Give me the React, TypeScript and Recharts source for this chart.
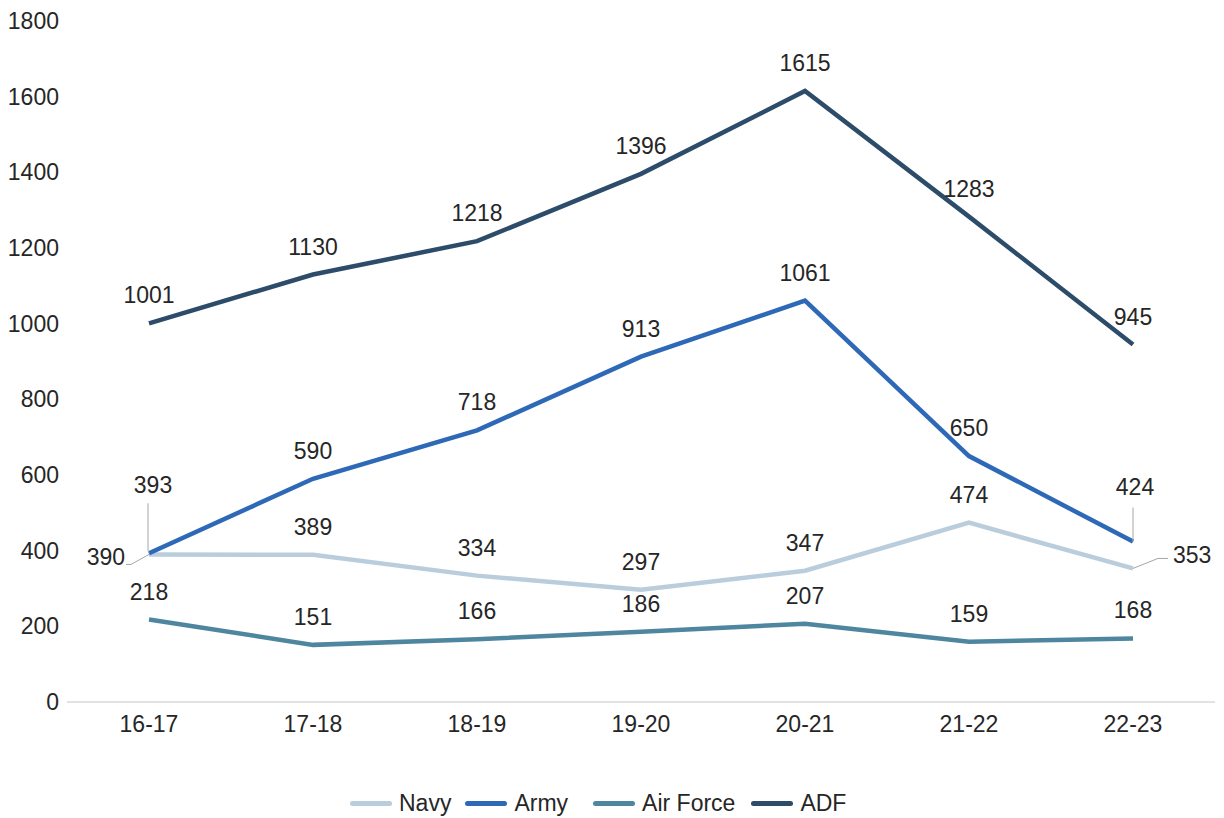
import { LineChart, Line, XAxis, YAxis, Legend, LabelList } from 'recharts';

const years = ['16-17', '17-18', '18-19', '19-20', '20-21', '21-22', '22-23'];
const navy = [390, 389, 334, 297, 347, 474, 353];
const army = [393, 590, 718, 913, 1061, 650, 424];
const airForce = [218, 151, 166, 186, 207, 159, 168];
const adf = [1001, 1130, 1218, 1396, 1615, 1283, 945];
const yTicks = [0, 200, 400, 600, 800, 1000, 1200, 1400, 1600, 1800];

const series = [
  { key: 'Navy', color: '#b9cddd', gap: 14 },
  { key: 'Army', color: '#2e69b8', gap: 25 },
  { key: 'Air Force', color: '#4e86a0', gap: 16 },
  { key: 'ADF', color: '#2c4c6a', gap: 0 },
];

const data = years.map((year, i) => ({
  year,
  Navy: navy[i],
  Army: army[i],
  'Air Force': airForce[i],
  ADF: adf[i],
}));

const FONT = '"Liberation Sans", Arial, sans-serif';
const FS = 23;
const TEXT = '#262626';
const LEADER = '#a6a6a6';

// label above point; a few labels are moved off the lines with a leader like in Excel
function makeLabel(name: string) {
  return (props: any) => {
    const { x, y, value, index } = props;
    const last = index === years.length - 1;
    const txt = { fontSize: FS, fontFamily: FONT, fill: TEXT };
    if (name === 'Navy' && index === 0) {
      return (
        <g>
          <polyline points={`${x},${y} ${x - 18},${y + 10} ${x - 23},${y + 10}`} fill="none" stroke={LEADER} strokeWidth={1} />
          <text x={x - 24} y={y + 2} dy="0.35em" textAnchor="end" {...txt}>{value}</text>
        </g>
      );
    }
    if (name === 'Navy' && last) {
      return (
        <g>
          <polyline points={`${x},${y} ${x + 25},${y - 10} ${x + 35},${y - 10}`} fill="none" stroke={LEADER} strokeWidth={1} />
          <text x={x + 40} y={y - 13} dy="0.35em" textAnchor="start" {...txt}>{value}</text>
        </g>
      );
    }
    if (name === 'Army' && index === 0) {
      return (
        <g>
          <polyline points={`${x},${y} ${x - 1},${y - 3} ${x - 1},${y - 50}`} fill="none" stroke={LEADER} strokeWidth={1} />
          <text x={x + 4} y={y - 68} dy="0.35em" textAnchor="middle" {...txt}>{value}</text>
        </g>
      );
    }
    if (name === 'Army' && last) {
      return (
        <g>
          <polyline points={`${x},${y} ${x},${y - 34}`} fill="none" stroke={LEADER} strokeWidth={1} />
          <text x={x + 2} y={y - 55} dy="0.35em" textAnchor="middle" {...txt}>{value}</text>
        </g>
      );
    }
    return (
      <text x={x} y={y - 28} dy="0.35em" textAnchor="middle" {...txt}>{value}</text>
    );
  };
}

function LegendBox() {
  return (
    <div style={{ height: 30, display: 'flex', alignItems: 'center', paddingLeft: 350, fontFamily: FONT, fontSize: FS, color: TEXT }}>
      {series.map((s) => (
        <div key={s.key} style={{ display: 'flex', alignItems: 'center', marginRight: s.gap }}>
          <div style={{ width: 42, height: 5, borderRadius: 3, background: s.color, marginRight: 7 }} />
          <span>{s.key}</span>
        </div>
      ))}
    </div>
  );
}

export default function App() {
  return (
    <div style={{ position: 'absolute', left: 0, top: 0, width: 1224, height: 818, background: '#fff' }}>
      <LineChart width={1224} height={818} data={data} margin={{ top: 21, right: 9, bottom: 0, left: 0 }}>
        <XAxis
          dataKey="year"
          height={86}
          padding={{ left: 82, right: 82 }}
          axisLine={{ stroke: '#d9d9d9', strokeWidth: 1.5 }}
          tickLine={false}
          tickSize={0}
          tickMargin={14}
          tick={{ fontSize: FS, fontFamily: FONT, fill: TEXT }}
        />
        <YAxis
          width={67}
          domain={[0, 1800]}
          ticks={yTicks}
          axisLine={false}
          tickLine={false}
          tickSize={0}
          tickMargin={8}
          tick={{ fontSize: FS, fontFamily: FONT, fill: TEXT }}
        />
        <Legend verticalAlign="bottom" height={30} content={() => <LegendBox />} />
        {series.map((s) => (
          <Line
            key={s.key}
            dataKey={s.key}
            stroke={s.color}
            strokeWidth={4.5}
            dot={false}
            type="linear"
            isAnimationActive={false}
          >
            <LabelList dataKey={s.key} content={makeLabel(s.key)} />
          </Line>
        ))}
      </LineChart>
    </div>
  );
}
